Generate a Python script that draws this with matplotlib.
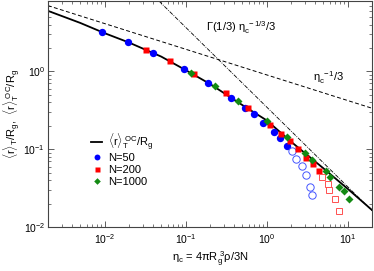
import matplotlib
matplotlib.use("Agg")
import matplotlib.pyplot as plt

plt.rcParams['font.family'] = ['Liberation Sans', 'DejaVu Sans']
plt.rcParams['mathtext.fontset'] = 'custom'
plt.rcParams['mathtext.rm'] = 'Liberation Sans'
plt.rcParams['mathtext.it'] = 'Liberation Sans'
plt.rcParams['mathtext.sf'] = 'Liberation Sans'

# solid curve <r>_T^OC / R_g
oc_x = [0.002, 0.005, 0.01, 0.02, 0.05, 0.1, 0.2, 0.5, 1, 2, 5, 10, 20]
oc_y = [6.0, 4.2, 3.1, 2.35, 1.55, 1.04, 0.69, 0.37, 0.235, 0.125, 0.057, 0.031, 0.0165]

# asymptotes (straight lines in log-log)
small_x = [0.002, 20]
small_y = [7.0, 0.336]
large_x = [0.047, 20]
large_y = [8.0, 0.0162]

# N=50
n50_x = [0.0094, 0.0197, 0.0399, 0.0966, 0.19, 0.365, 0.537, 0.698, 0.912, 1.23, 1.46, 1.79]
n50_y = [3.19, 2.38, 1.72, 1.06, 0.708, 0.455, 0.342, 0.281, 0.22, 0.165, 0.138, 0.111]
n50_open_x = [2.03, 2.33, 2.71, 3.07, 3.39, 3.66]
n50_open_y = [0.094, 0.076, 0.0605, 0.0464, 0.0329, 0.0255]

# N=200
n200_x = [0.0325, 0.0646, 0.126, 0.311, 0.589, 1.10, 1.51, 1.93, 2.44, 3.09, 3.72, 4.38]
n200_y = [1.90, 1.34, 0.915, 0.527, 0.339, 0.207, 0.159, 0.128, 0.102, 0.0773, 0.0645, 0.0527]
n200_open_x = [4.76, 5.65, 5.86, 6.9, 7.7]
n200_open_y = [0.0442, 0.0355, 0.0298, 0.0227, 0.016]

# N=1000
n1000_x = [0.117, 0.232, 0.444, 1.0, 1.76, 3.0, 3.63, 5.38, 6.08, 7.87, 8.9, 10.4]
n1000_y = [0.94, 0.643, 0.412, 0.228, 0.144, 0.0897, 0.072, 0.0533, 0.0442, 0.0332, 0.0287, 0.0227]

fig = plt.figure(figsize=(3.74, 2.71), dpi=100)
ax = fig.add_axes([0.128, 0.162, 0.867, 0.834])

ax.plot(small_x, small_y, color='black', lw=0.7, ls=(0, (4, 2.5)))
ax.plot(large_x, large_y, color='black', lw=0.6, ls=(0, (5, 1.5, 1, 1.5)))
ax.plot(oc_x, oc_y, color='black', lw=1.3, label=r'$\langle$r$\rangle_T^{\ OC}$/R$_g$', zorder=2)

ax.plot(n50_x, n50_y, 'o', color='#0000ff', ms=5.3, mec='none', label='N=50', zorder=3)
ax.plot(n50_open_x, n50_open_y, 'o', mfc='none', mec='#4455ff', mew=0.7, ms=5.3, zorder=3)
ax.plot(n200_x, n200_y, 's', color='#ff0000', ms=4.5, mec='none', label='N=200', zorder=3)
ax.plot(n200_open_x, n200_open_y, 's', mfc='none', mec='#ff5050', mew=0.7, ms=4.3, zorder=3)
ax.plot(n1000_x, n1000_y, 'D', color='#138a13', ms=4.2, mec='none', label='N=1000', zorder=4)

ax.set_xscale('log')
ax.set_yscale('log')
ax.set_xlim(0.002, 20)
ax.set_ylim(0.01, 8)

ax.text(0.179, 3.66, r'$\Gamma$(1/3) $\eta_c^{\ -1/3}$/3', fontsize=8, va='center')
ax.text(3.78, 0.838, r'$\eta_c^{\ -1}$/3', fontsize=8, va='center')

ax.set_xlabel(r'$\eta_c$ = 4$\pi$R$_g^{\ 3}\rho$/3N', fontsize=8, labelpad=2)
ax.set_ylabel(r'$\langle$r$\rangle_T$/R$_g$,  $\langle$r$\rangle_T^{\ OC}$/R$_g$', fontsize=8)
ax.yaxis.set_label_coords(-0.08, 0.5)

ax.tick_params(which='both', direction='in', top=True, right=True, labelsize=7.5, color='#444444')
ax.tick_params(which='major', length=4, width=0.6)
ax.tick_params(which='minor', length=2, width=0.5)
ax.tick_params(axis='y', which='major', pad=2)
ax.tick_params(axis='x', which='major', pad=4)
for s in ax.spines.values():
    s.set_color('#444444')
    s.set_linewidth(0.8)

ax.legend(loc='upper left', bbox_to_anchor=(0.11, 0.46), frameon=False, fontsize=8,
          handlelength=1.0, handletextpad=0.5, labelspacing=0.15, borderpad=0.2, markerscale=0.8)

fig.savefig("out.png", dpi=100)
